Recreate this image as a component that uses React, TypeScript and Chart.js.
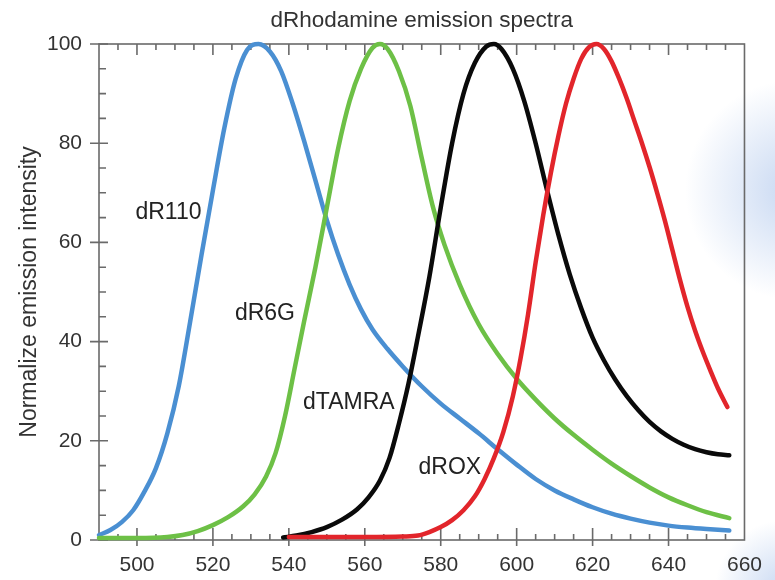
import React, { useEffect, useRef } from "react";
import { Chart, registerables } from "chart.js";

Chart.register(...registerables);

// ---- data (wavelength in nm, normalized intensity) ----
const dR110Wavelength = [490, 493, 496, 499, 502, 505, 508, 511, 514, 517, 520, 523, 526, 529, 532, 535, 538, 541, 544, 547, 550, 553, 556, 559, 562, 566, 570, 575, 580, 585, 590, 595, 600, 605, 610, 615, 620, 625, 630, 635, 640, 645, 650, 656];
const dR110Intensity = [1.0, 2.0, 3.6, 6.0, 9.8, 14.5, 21.5, 31, 44, 57.5, 70.5, 83, 93, 98.8, 100, 98.5, 94.5, 88, 80.5, 72.5, 64.5, 57.5, 51.5, 46.5, 42.5, 38.5, 35, 31, 27.5, 24.5, 21.5, 18.3, 15.2, 12.3, 10, 8.2, 6.6, 5.3, 4.3, 3.5, 2.9, 2.5, 2.2, 1.9];

const dR6GWavelength = [490, 500, 508, 512, 516, 520, 524, 528, 531, 534, 536.5, 539, 541.5, 544, 547, 550, 553, 556, 559, 562, 564, 566, 569, 572, 575, 578, 581, 585, 590, 595, 600, 605, 610, 615, 620, 625, 630, 635, 640, 645, 650, 656];
const dR6GIntensity = [0.4, 0.4, 0.6, 1.0, 1.8, 3.0, 4.6, 6.8, 9.2, 12.8, 17.5, 25, 34.5, 44, 55, 67, 79, 88.5, 95, 99.2, 100, 99, 94.5, 87.5, 77, 67, 59.5, 51.5, 43.5, 37.5, 32.5, 28.3, 24.5, 21.2, 18.2, 15.4, 12.9, 10.6, 8.6, 7, 5.6, 4.4];

const dTAMRAWavelength = [538.5, 542, 546, 550, 554, 558, 561, 564, 566.5, 569, 571.5, 574, 577, 580, 583, 586, 589, 592, 594, 596, 599, 602, 605, 608, 611, 614, 617, 620, 623, 626, 629, 632, 635, 638, 641, 644, 647, 650, 653, 656];
const dTAMRAIntensity = [0.5, 0.9, 1.6, 2.6, 4.1, 6.2, 8.6, 12, 16.5, 23.5, 31.5, 41, 53, 67, 80, 90, 96.2, 99.5, 100, 99, 95, 88.5, 80, 70.5, 61.5, 53.5, 46.7, 40.8, 36.2, 32.3, 29, 26.2, 23.8, 21.9, 20.4, 19.2, 18.3, 17.7, 17.3, 17.1];

const dROXWavelength = [540, 550, 560, 570, 574, 577, 580, 583, 586, 589, 591.5, 594, 596.5, 599, 601, 603, 605, 607, 609, 611, 613, 615, 617, 619, 621, 623, 625, 627, 629, 631, 633, 635, 637, 639, 641, 643, 645, 647, 649, 651, 653, 655.5];
const dROXIntensity = [0.6, 0.6, 0.6, 0.7, 0.9, 1.6, 2.6, 4, 6, 8.8, 12.2, 16.5, 21.8, 29, 36.5, 45.5, 56, 65.5, 74, 81.5, 88, 93, 97, 99.3, 100, 99, 96.5, 93, 89, 84.5, 80, 75.2, 70, 64.5, 58.5, 52.5, 47, 42.2, 38, 34.2, 30.6, 26.8];

const seriesNames = ["dR110", "dR6G", "dTAMRA", "dROX"];
const seriesColors = ["#4a8fd2", "#6dc046", "#0a0a0a", "#e2252b"];

// in-plot series labels, anchored in data coordinates
const labelWavelength = [508.3, 533.7, 555.8, 582.4];
const labelIntensity = [65.9, 45.6, 27.7, 14.5];

const xTickValues = [500, 520, 540, 560, 580, 600, 620, 640, 660];
const yTickValues = [0, 20, 40, 60, 80, 100];
const xMinorStep = 5;
const yMinorStep = 5;

const FONT = "'Liberation Sans', Arial, Helvetica, sans-serif";

function toPoints(xs: number[], ys: number[]) {
  return xs.map((x, i) => ({ x, y: ys[i] }));
}

const framePlugin = {
  id: "frameTicks",
  beforeDraw(chart: any) {
    const { ctx, width, height } = chart;
    ctx.save();
    ctx.fillStyle = "#ffffff";
    ctx.fillRect(0, 0, width, height);
    const g = ctx.createRadialGradient(width + 20, 190, 10, width + 20, 190, 110);
    g.addColorStop(0, "rgba(170,195,235,0.6)");
    g.addColorStop(1, "rgba(170,195,235,0)");
    ctx.fillStyle = g;
    ctx.fillRect(width - 140, 40, 140, 320);
    const g2 = ctx.createRadialGradient(width + 10, height + 10, 5, width + 10, height + 10, 70);
    g2.addColorStop(0, "rgba(170,195,235,0.6)");
    g2.addColorStop(1, "rgba(170,195,235,0)");
    ctx.fillStyle = g2;
    ctx.fillRect(width - 90, height - 90, 90, 90);
    ctx.restore();
  },
  beforeDatasetsDraw(chart: any) {
    const { ctx, chartArea } = chart;
    const { left, right, top, bottom } = chartArea;
    const xs = chart.scales.x;
    const ys = chart.scales.y;
    ctx.save();
    ctx.strokeStyle = "#6a6a6a";
    ctx.lineWidth = 1.6;
    ctx.strokeRect(left, top, right - left, bottom - top);
    ctx.beginPath();
    for (let v = xs.min; v <= xs.max + 0.001; v += xMinorStep) {
      const px = xs.getPixelForValue(v);
      const major = xTickValues.includes(v);
      if (px <= left + 1 || px >= right - 1) continue;
      if (major) {
        ctx.moveTo(px, bottom + 6);
        ctx.lineTo(px, bottom - 12);
        ctx.moveTo(px, top);
        ctx.lineTo(px, top + 11);
      } else {
        ctx.moveTo(px, bottom);
        ctx.lineTo(px, bottom - 6);
        ctx.moveTo(px, top);
        ctx.lineTo(px, top + 6);
      }
    }
    for (let v = ys.min; v <= ys.max + 0.001; v += yMinorStep) {
      const py = ys.getPixelForValue(v);
      const major = yTickValues.includes(v);
      if (major) {
        ctx.moveTo(left - 9, py);
        ctx.lineTo(left + 9, py);
      } else {
        ctx.moveTo(left, py);
        ctx.lineTo(left + 7, py);
      }
    }
    ctx.stroke();
    ctx.restore();
  },
  afterDatasetsDraw(chart: any) {
    const { ctx } = chart;
    const xs = chart.scales.x;
    const ys = chart.scales.y;
    ctx.save();
    ctx.fillStyle = "#222";
    ctx.font = `23px ${FONT}`;
    ctx.textAlign = "center";
    ctx.textBaseline = "middle";
    seriesNames.forEach((name, i) => {
      ctx.fillText(name, xs.getPixelForValue(labelWavelength[i]), ys.getPixelForValue(labelIntensity[i]));
    });
    ctx.restore();
  },
};

export default function App() {
  const canvasRef = useRef<HTMLCanvasElement | null>(null);

  useEffect(() => {
    if (!canvasRef.current) return;
    const make = (i: number, xs: number[], ys: number[]) => ({
      label: seriesNames[i],
      data: toPoints(xs, ys),
      borderColor: seriesColors[i],
      backgroundColor: seriesColors[i],
      borderWidth: 4.5,
      pointRadius: 0,
      tension: 0.4,
      cubicInterpolationMode: "monotone" as const,
      clip: false as any,
      borderCapStyle: "round" as const,
      order: 4 - i,
    });
    const chart = new Chart(canvasRef.current, {
      type: "line",
      data: {
        datasets: [
          make(0, dR110Wavelength, dR110Intensity),
          make(1, dR6GWavelength, dR6GIntensity),
          make(2, dTAMRAWavelength, dTAMRAIntensity),
          make(3, dROXWavelength, dROXIntensity),
        ],
      },
      options: {
        responsive: false,
        animation: false,
        events: [],
        layout: { padding: { left: 0, right: 30, top: 0, bottom: 0 } },
        plugins: {
          legend: { display: false },
          tooltip: { enabled: false },
          title: {
            display: true,
            text: "dRhodamine emission spectra",
            fullSize: false,
            color: "#333",
            font: { family: FONT, size: 22.5, weight: "normal", lineHeight: 1.2 },
            padding: { top: 7, bottom: 10 },
          },
        },
        scales: {
          x: {
            type: "linear",
            min: 490,
            max: 660,
            grid: { display: false, drawTicks: false },
            border: { display: false },
            afterBuildTicks: (scale: any) => {
              scale.ticks = xTickValues.map((v) => ({ value: v }));
            },
            afterFit: (scale: any) => {
              scale.height = 40;
            },
            ticks: {
              color: "#333",
              padding: 13,
              maxRotation: 0,
              autoSkip: false,
              font: { family: FONT, size: 21 },
            },
          },
          y: {
            type: "linear",
            min: 0,
            max: 100,
            grid: { display: false, drawTicks: false },
            border: { display: false },
            afterBuildTicks: (scale: any) => {
              scale.ticks = yTickValues.map((v) => ({ value: v }));
            },
            afterFit: (scale: any) => {
              scale.width = 99;
            },
            ticks: {
              color: "#333",
              padding: 17,
              autoSkip: false,
              font: { family: FONT, size: 21 },
            },
            title: {
              display: true,
              text: "Normalize emission intensity",
              color: "#333",
              font: { family: FONT, size: 23, lineHeight: 1.2 },
              padding: { top: 16, bottom: 0 },
            },
          },
        },
      },
      plugins: [framePlugin],
    });
    return () => chart.destroy();
  }, []);

  return (
    <div style={{ position: "fixed", left: 0, top: 0, width: 775, height: 580 }}>
      <canvas ref={canvasRef} width={775} height={580} style={{ display: "block" }} />
    </div>
  );
}
